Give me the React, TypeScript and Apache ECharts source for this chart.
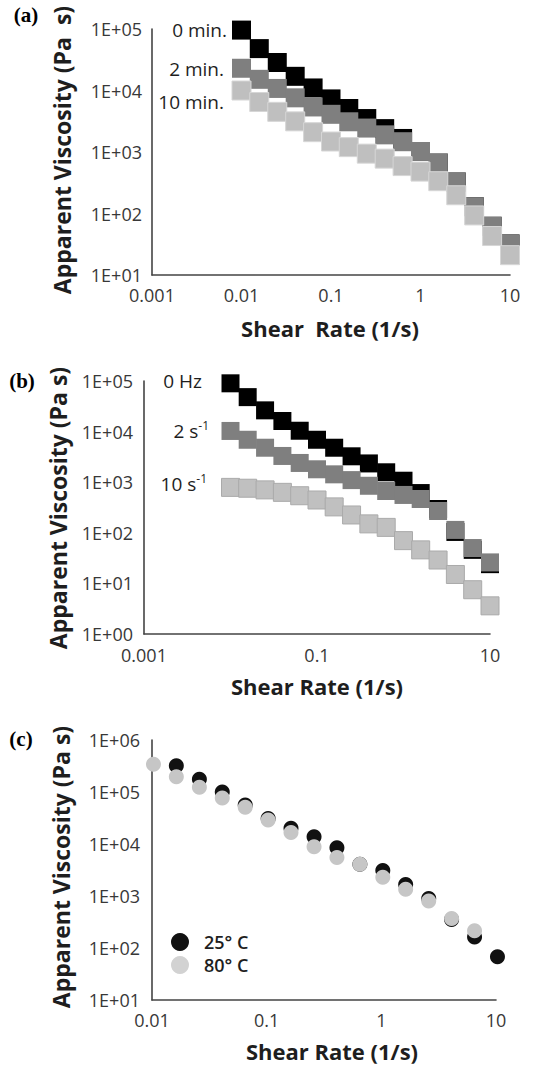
import React, { useEffect, useRef } from 'react';
import * as echarts from 'echarts';

// ---------- data ----------
const shearAB = [0.01, 0.0158, 0.0251, 0.0398, 0.0631, 0.1, 0.158, 0.251, 0.398, 0.631, 1, 1.58, 2.51, 3.98, 6.31, 10];

// panel (a)
const visc0min = [96000, 48000, 28500, 17000, 11000, 7300, 5100, 3500, 2400, 1660, 1020, 660, 325, 129, 62, 32];
const visc2min = [23000, 15200, 10800, 7600, 5400, 4100, 3100, 2450, 1900, 1470, 1020, 660, 325, 129, 62, 32];
const visc10min = [10000, 6500, 4500, 3150, 2100, 1480, 1200, 940, 780, 590, 480, 335, 198, 93, 43, 21];

// panel (b)
const visc0Hz = [90000, 48000, 26300, 16200, 10400, 6900, 4800, 3250, 2350, 1570, 1070, 610, 295, 104, 46, 24];
const visc2s = [10300, 6900, 4800, 3300, 2400, 1800, 1430, 1100, 850, 670, 560, 466, 270, 114, 50, 26];
const visc10s = [790, 760, 705, 630, 540, 445, 325, 225, 150, 128, 70, 46, 29, 15, 7.5, 3.6];

// panel (c)
const shearC = [0.0103, 0.0163, 0.0259, 0.041, 0.065, 0.103, 0.163, 0.259, 0.41, 0.65, 1.03, 1.63, 2.59, 4.1, 6.5, 10.3];
const visc25C = [null, 320000, 175000, 100000, 56000, 31000, 20000, 13800, 8500, 4100, 3100, 1660, 900, 355, 162, 68];
const visc80C = [340000, 197000, 123000, 77000, 51000, 29000, 16600, 8900, 5500, 4100, 2300, 1350, 800, 370, 215, null];

// tick labels
const xTicksA = ['0.001', '0.01', '0.1', '1', '10'];
const xTicksB = ['0.001', '0.1', '10'];
const xTicksC = ['0.01', '0.1', '1', '10'];
const yTicksA = ['1E+01', '1E+02', '1E+03', '1E+04', '1E+05'];
const yTicksB = ['1E+00', '1E+01', '1E+02', '1E+03', '1E+04', '1E+05'];
const yTicksC = ['1E+01', '1E+02', '1E+03', '1E+04', '1E+05', '1E+06'];

// ---------- helpers ----------
const FONT = '"Open Sans", "Noto Sans", sans-serif';
const SERIF = '"Liberation Serif", "DejaVu Serif", serif';
const AXIS = '#444444';
const TICK = '#383838';
const TITLE = '#1e1e1e';

function pairs(xs: number[], ys: (number | null)[]) {
  const out: number[][] = [];
  xs.forEach((x, i) => {
    const y = ys[i];
    if (y != null) out.push([x, y]);
  });
  return out;
}
const expOf = (v: number) => Math.round(Math.log10(v));
const decLabel = (v: number) => {
  const e = expOf(v);
  return e < 0 ? '0.' + '0'.repeat(-e - 1) + '1' : '1' + '0'.repeat(e);
};
const sciLabel = (v: number) => {
  const e = expOf(v);
  return '1E' + (e < 0 ? '-' : '+') + String(Math.abs(e)).padStart(2, '0');
};

function xAxis(gridIndex: number, min: number, max: number, ticks: string[], margin: number) {
  return {
    type: 'log', logBase: 10, gridIndex, min, max,
    axisLine: { show: true, onZero: false, lineStyle: { color: AXIS, width: 1.6 } },
    axisTick: { show: false },
    splitLine: { show: false },
    axisLabel: {
      margin, fontSize: 18, fontFamily: FONT, color: TICK,
      formatter: (v: number) => { const s = decLabel(v); return ticks.includes(s) ? s : ''; },
    },
  };
}
function yAxis(gridIndex: number, min: number, max: number, ticks: string[], margin: number) {
  return {
    type: 'log', logBase: 10, gridIndex, min, max,
    axisLine: { show: true, onZero: false, lineStyle: { color: AXIS, width: 1.6 } },
    axisTick: { show: false },
    splitLine: { show: false },
    axisLabel: {
      margin, fontSize: 18, fontFamily: FONT, color: TICK,
      formatter: (v: number) => { const s = sciLabel(v); return ticks.includes(s) ? s : ''; },
    },
  };
}
function sq(name: string, xi: number, xs: number[], ys: (number | null)[], color: string, size: number, border?: string) {
  return {
    type: 'scatter', name, xAxisIndex: xi, yAxisIndex: xi, symbol: 'rect', symbolSize: size,
    data: pairs(xs, ys), clip: false,
    itemStyle: { color, opacity: 1, borderColor: border || color, borderWidth: border ? 1 : 0 },
    emphasis: { disabled: true },
  };
}
function circ(name: string, xs: number[], ys: (number | null)[], color: string) {
  return {
    type: 'scatter', name, xAxisIndex: 2, yAxisIndex: 2, symbol: 'circle', symbolSize: 15,
    data: pairs(xs, ys), clip: false,
    itemStyle: { color, opacity: 1 },
    emphasis: { disabled: true },
  };
}
function txt(x: number, y: number, text: string, opts: any = {}) {
  return {
    type: 'text', x, y, rotation: opts.rotation || 0,
    style: {
      text, fill: opts.fill || TITLE,
      font: opts.font || `18px ${FONT}`,
      align: opts.align || 'center', verticalAlign: 'middle',
      rich: opts.rich,
    },
  };
}

const supRich = {
  sup: { fontSize: 12, fontFamily: FONT, fill: TITLE, verticalAlign: 'top', lineHeight: 24, padding: [0, 0, 10, 0] },
};

export default function App() {
  const ref = useRef<HTMLDivElement>(null);
  useEffect(() => {
    if (!ref.current) return;
    const chart = echarts.init(ref.current, undefined, { renderer: 'svg' });
    const yTitleFont = `bold 23px ${FONT}`;
    const xTitleFont = `bold 22px ${FONT}`;
    const labelFont = `bold 21px ${SERIF}`;
    const seriesFont = `19px ${FONT}`;
    chart.setOption({
      animation: false,
      backgroundColor: '#ffffff',
      grid: [
        { left: 152, top: 29, width: 358, height: 246 },
        { left: 144, top: 381, width: 346, height: 253 },
        { left: 152, top: 740, width: 344, height: 260 },
      ],
      xAxis: [
        xAxis(0, 0.001, 10, xTicksA, 11),
        xAxis(1, 0.001, 10, xTicksB, 12),
        xAxis(2, 0.01, 10, xTicksC, 11),
      ],
      yAxis: [
        yAxis(0, 10, 100000, yTicksA, 10),
        yAxis(1, 1, 100000, yTicksB, 11),
        yAxis(2, 10, 1000000, yTicksC, 12),
      ],
      legend: {
        orient: 'vertical', left: 166, top: 928, itemWidth: 18, itemHeight: 18, itemGap: 5,
        icon: 'circle', selectedMode: false,
        textStyle: { fontFamily: FONT, fontSize: 18, fontWeight: 600, color: TITLE, padding: [0, 0, 0, 10] },
        data: [
          { name: '25° C', itemStyle: { color: '#111111' } },
          { name: '80° C', itemStyle: { color: '#d2d2d2' } },
        ],
      },
      series: [
        sq('0 min.', 0, shearAB, visc0min, '#000000', 19),
        sq('2 min.', 0, shearAB, visc2min, '#7f7f7f', 19),
        sq('10 min.', 0, shearAB, visc10min, '#bfbfbf', 19, '#d6d6d6'),
        sq('0 Hz', 1, shearAB, visc0Hz, '#000000', 18),
        sq('2 s-1', 1, shearAB, visc2s, '#7f7f7f', 18),
        sq('10 s-1', 1, shearAB, visc10s, '#c0c0c0', 18, '#aaaaaa'),
        circ('25° C', shearC, visc25C, '#111111'),
        circ('80° C', shearC, visc80C, '#c6c6c6'),
      ],
      graphic: [
        txt(26, 15, '(a)', { font: labelFont, fill: '#000' }),
        txt(22, 381, '(b)', { font: labelFont, fill: '#000' }),
        txt(21, 739, '(c)', { font: labelFont, fill: '#000' }),
        txt(62, 150, 'Apparent Viscosity (Pa  s)', { font: yTitleFont, rotation: Math.PI / 2 }),
        txt(58, 508, 'Apparent Viscosity (Pa s)', { font: yTitleFont, rotation: Math.PI / 2 }),
        txt(61, 867, 'Apparent Viscosity (Pa s)', { font: yTitleFont, rotation: Math.PI / 2 }),
        txt(330, 328, 'Shear  Rate (1/s)', { font: xTitleFont }),
        txt(317, 686, 'Shear Rate (1/s)', { font: xTitleFont }),
        txt(332, 1051, 'Shear Rate (1/s)', { font: xTitleFont }),
        txt(227, 30, '0 min.', { font: seriesFont, align: 'right' }),
        txt(224, 69, '2 min.', { font: seriesFont, align: 'right' }),
        txt(224, 102, '10 min.', { font: seriesFont, align: 'right' }),
        txt(202, 381, '0 Hz', { font: seriesFont, align: 'right' }),
        txt(209, 431, '2 s{sup|-1}', { font: seriesFont, align: 'right', rich: supRich }),
        txt(207, 484, '10 s{sup|-1}', { font: seriesFont, align: 'right', rich: supRich }),
      ],
    });
    return () => chart.dispose();
  }, []);
  return (
    <div
      ref={ref}
      style={{ position: 'fixed', left: 0, top: 0, width: 536, height: 1067, background: '#fff' }}
    />
  );
}
